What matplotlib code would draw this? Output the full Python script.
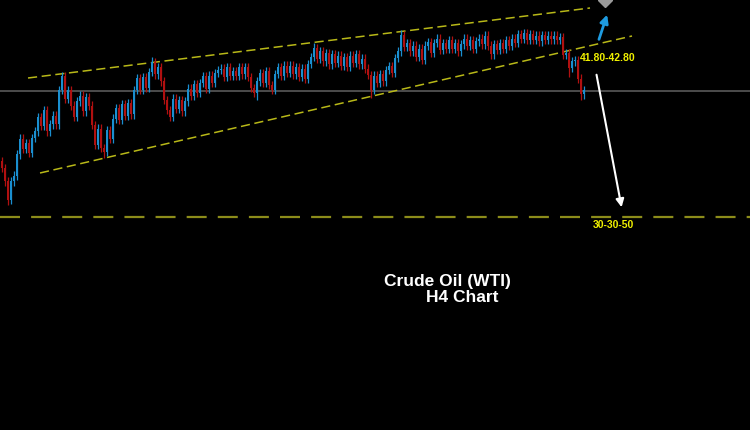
import numpy as np
import matplotlib
matplotlib.use("Agg")
import matplotlib.pyplot as plt

# H4 closes (one candle every ~3 px)
closes = [33.84, 32.90, 31.60, 32.90, 33.30, 34.80, 35.90, 35.20, 35.60, 34.90,
          35.94, 36.40, 37.40, 36.80, 37.90, 36.40, 36.90, 37.50, 36.90, 39.30,
          40.28, 38.70, 39.30, 38.20, 37.40, 38.50, 38.90, 37.80, 38.80, 38.20,
          36.85, 35.45, 36.60, 35.24, 34.96, 36.50, 35.90, 37.30, 38.04, 37.20,
          38.30, 37.50, 38.40, 37.60, 39.30, 40.14, 39.30, 40.20, 39.44, 40.56,
          41.26, 40.40, 40.90, 39.90, 38.60, 37.90, 37.40, 38.70, 38.00, 38.60,
          37.80, 38.50, 39.40, 38.90, 39.70, 39.10, 39.80, 40.28, 39.40, 40.30,
          39.80, 40.50, 40.70, 40.80, 40.20, 40.90, 40.30, 40.60, 40.30, 40.90,
          40.40, 40.90, 40.20, 39.44, 39.10, 39.90, 40.50, 39.80, 40.60, 39.65,
          39.30, 40.42, 40.90, 40.30, 41.00, 40.50, 41.00, 40.40, 40.90, 40.20,
          40.80, 40.10, 41.12, 41.60, 42.24, 41.50, 42.00, 41.30, 41.90, 41.10,
          41.80, 41.20, 41.70, 41.00, 41.60, 40.90, 41.70, 41.20, 41.80, 41.10,
          41.50, 40.80, 40.35, 39.30, 40.30, 39.80, 40.40, 39.90, 40.70, 40.98,
          40.50, 41.54, 42.00, 43.15, 42.30, 42.60, 42.00, 42.40, 41.60, 42.20,
          41.40, 42.40, 42.66, 41.90, 42.60, 42.90, 42.10, 42.60, 42.20, 42.80,
          42.20, 42.60, 42.00, 42.50, 42.90, 42.40, 42.80, 42.20, 42.70, 42.90,
          42.50, 43.10, 42.40, 41.80, 42.50, 42.10, 42.60, 42.20, 42.80, 42.40,
          42.90, 42.60, 43.20, 42.90, 43.30, 42.80, 43.20, 42.80, 43.10, 42.70,
          43.15, 42.80, 43.10, 42.85, 43.10, 42.80, 43.00, 41.75, 41.90, 40.84,
          41.30, 41.40, 40.10, 39.00, 39.30]
first_open = 34.30
wick = 0.3

# candles whose wick sticks out further than usual
spike_high_idx = [20, 50, 104, 133, 161]
spike_high_val = [40.49, 41.61, 42.59, 43.50, 43.25]
spike_low_idx = [2, 34, 85, 123, 189, 193]
spike_low_val = [31.25, 34.54, 38.60, 38.74, 40.21, 38.60]

support = 39.23          # grey horizontal line
target = 30.41           # dashed target line
upper_x = [8.67, 196.0]
upper_y = [40.14, 45.04]
lower_x = [12.67, 210.0]
lower_y = [33.49, 43.08]

closes = np.array(closes)
opens = np.concatenate([[first_open], closes[:-1]])
highs = np.maximum(opens, closes) + wick
lows = np.minimum(opens, closes) - wick
for i, v in zip(spike_high_idx, spike_high_val):
    highs[i] = max(highs[i], v)
for i, v in zip(spike_low_idx, spike_low_val):
    lows[i] = min(lows[i], v)
idx = np.arange(len(closes))
up = closes >= opens

fig = plt.figure(figsize=(7.5, 4.3), dpi=100, facecolor="black")
ax = fig.add_axes([0, 0, 1, 1])
ax.set_facecolor("black")
ax.set_xlim(-0.667, 249.333)
ax.set_ylim(15.5, 45.6)
ax.axis("off")

ax.axhline(support, color="#5a5a5a", lw=1.2, zorder=1)
ax.axhline(target, color="#8c8c1a", lw=1.6, dashes=(9, 5), zorder=1)
ax.plot(upper_x, upper_y, color="#b8b818", lw=1.1, dashes=(6, 3), zorder=1)
ax.plot(lower_x, lower_y, color="#b8b818", lw=1.1, dashes=(6, 3), zorder=1)

col = np.where(up, "#1a8fd0", "#b01010")
ax.vlines(idx, lows, highs, colors=col, lw=0.9, zorder=2)
body = np.maximum(np.abs(closes - opens), 0.08)
ax.bar(idx, body, bottom=np.minimum(opens, closes), width=0.7, color=col,
       linewidth=0, zorder=3)

# arrows
ax.annotate("", xy=(202.0, 44.76), xytext=(198.7, 42.66),
            arrowprops=dict(arrowstyle="-|>", color="#1e9be0", lw=2,
                            mutation_scale=12))
ax.annotate("", xy=(206.7, 30.9), xytext=(198.0, 40.56),
            arrowprops=dict(arrowstyle="-|>", color="white", lw=1.5,
                            mutation_scale=12))
ax.plot([201.0], [45.6], marker="D", color="#9a9a9a", ms=7, clip_on=True)

ax.text(192.7, 41.54, "41.80-42.80", color="#f0f000", fontsize=7.5,
        fontweight="bold", family="Liberation Sans", va="center", ha="left")
ax.text(197.0, 29.85, "30-30-50", color="#f0f000", fontsize=7.5,
        fontweight="bold", family="Liberation Sans", va="center", ha="left")
fig.text(0.596, 0.3465, "Crude Oil (WTI)", color="white", fontsize=12.5,
         fontweight="bold", family="Liberation Sans", ha="center", va="center")
fig.text(0.617, 0.307, "H4 Chart", color="white", fontsize=12.5,
         fontweight="bold", family="Liberation Sans", ha="center", va="center")

fig.savefig("out.png", dpi=100, facecolor="black")
